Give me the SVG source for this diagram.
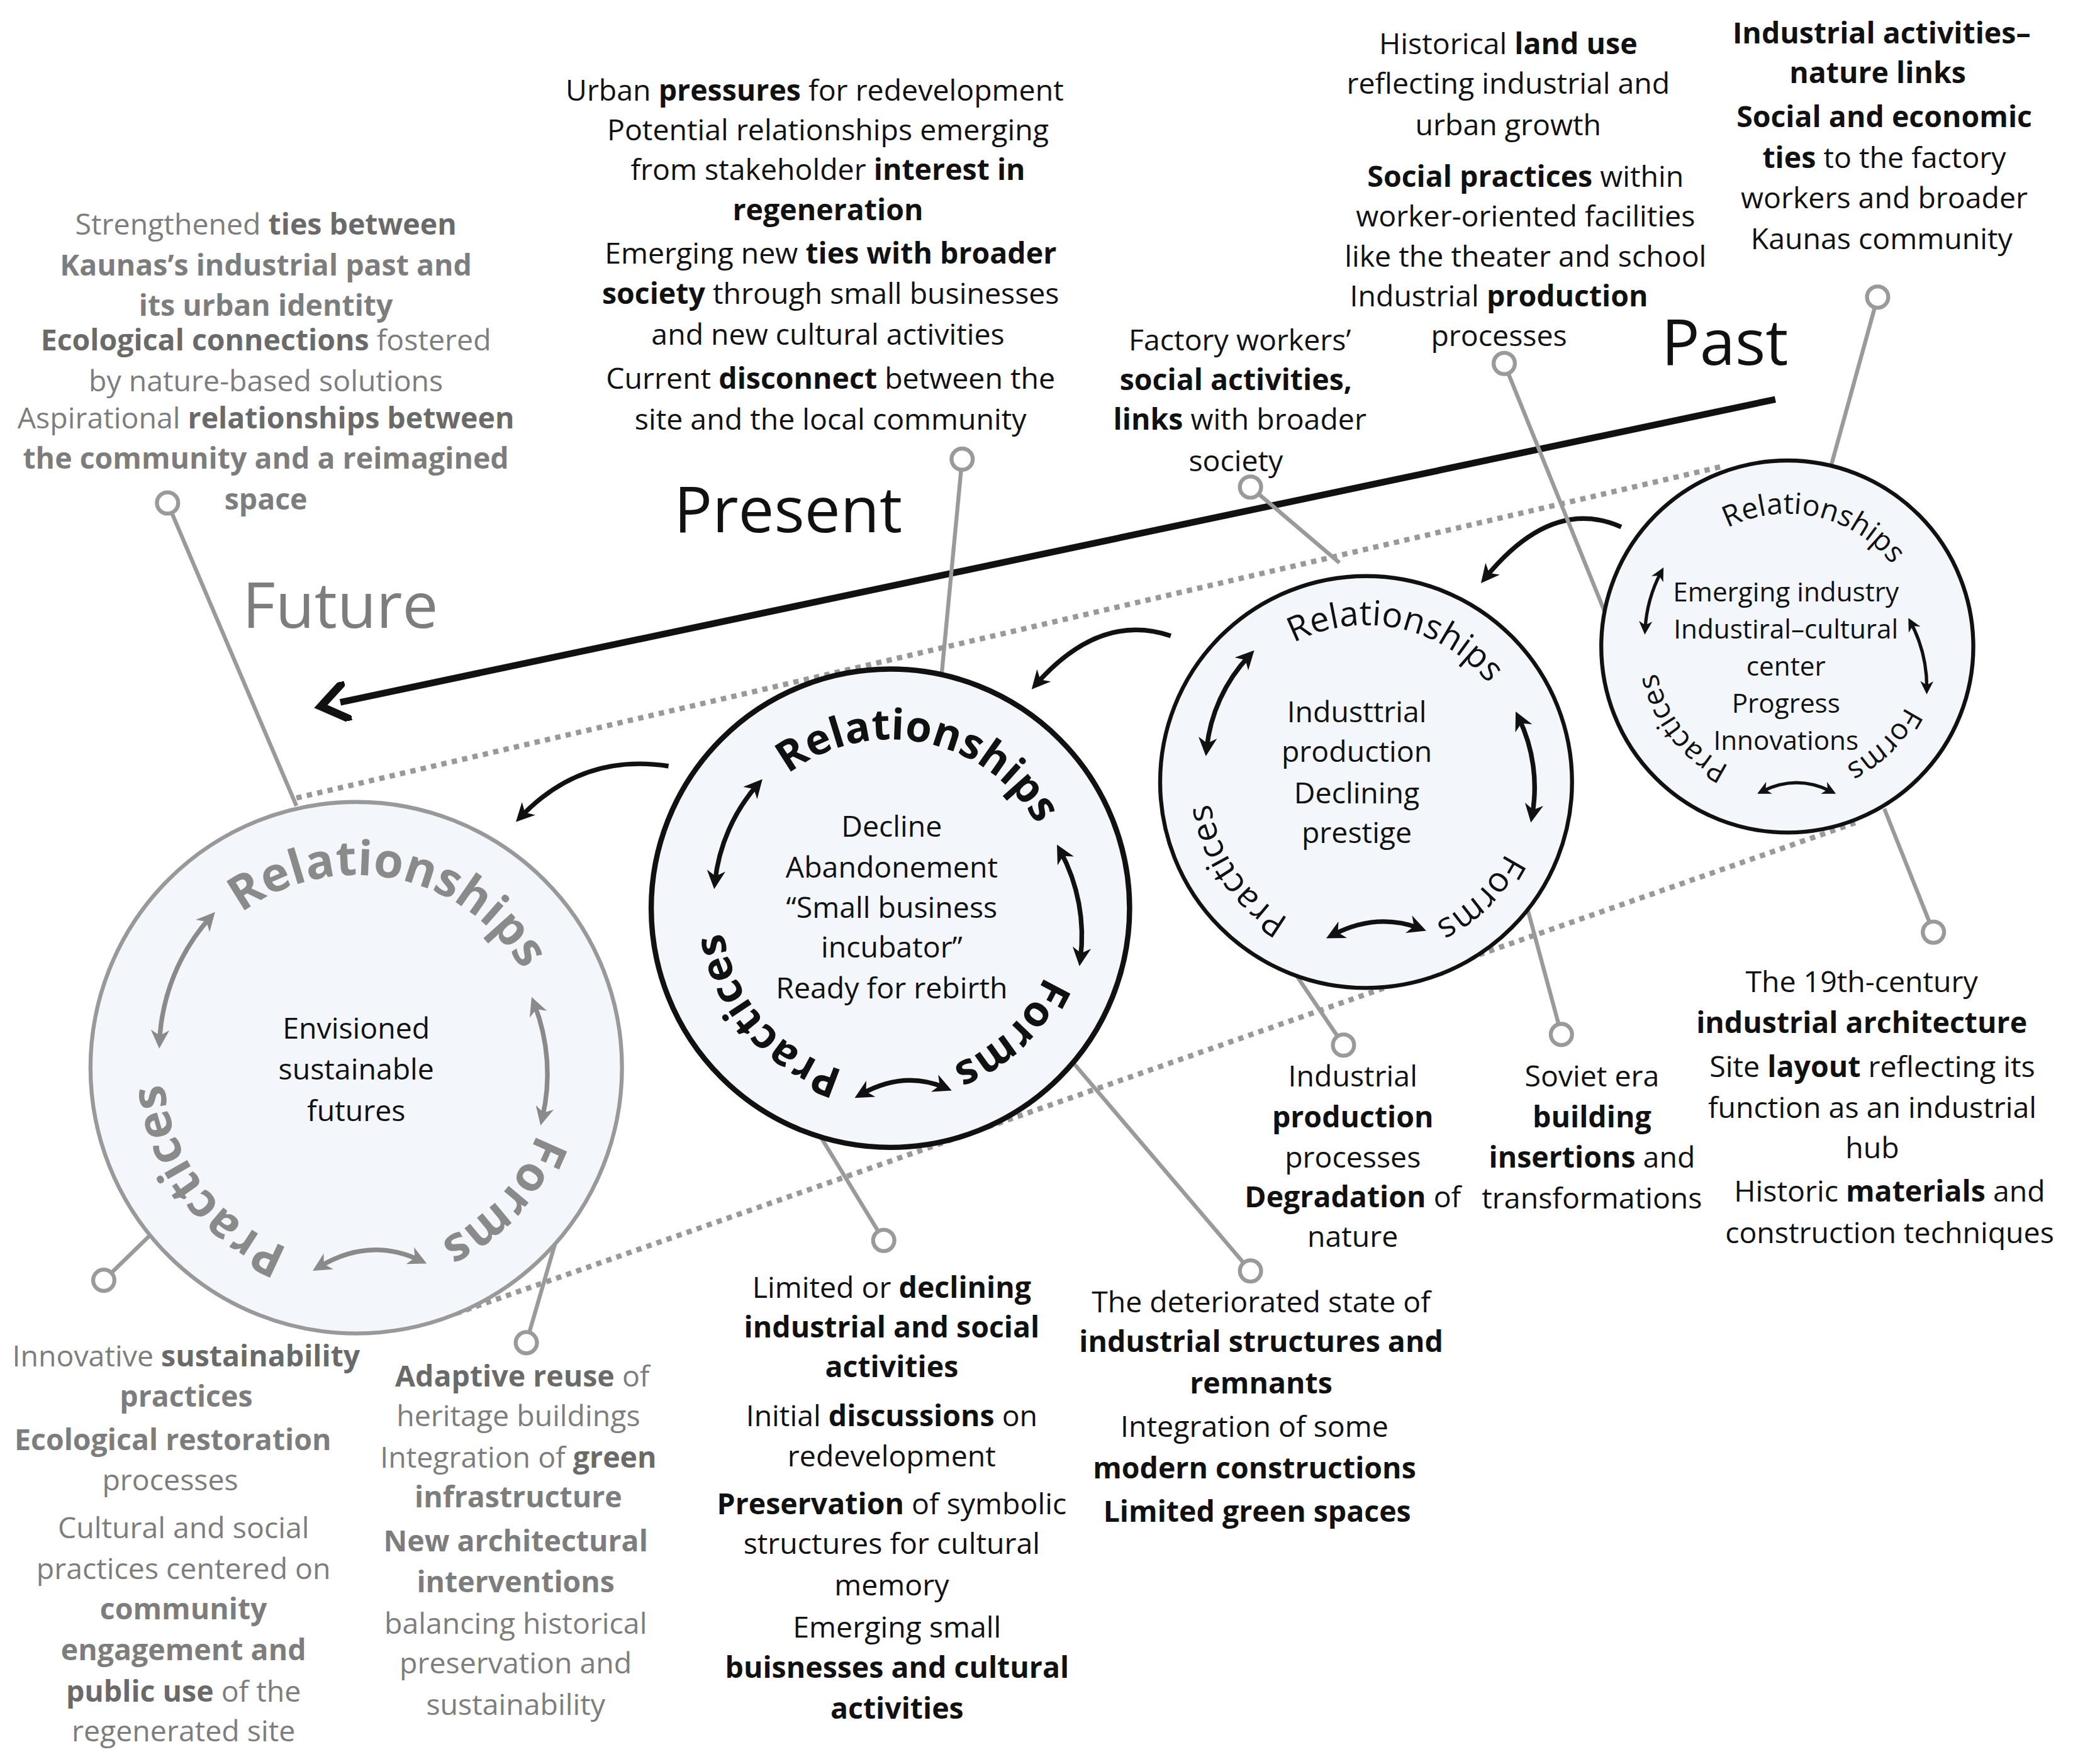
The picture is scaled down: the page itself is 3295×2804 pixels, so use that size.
<svg xmlns="http://www.w3.org/2000/svg" width="3295" height="2804" viewBox="0 0 3295 2804">
<defs>
<style>
text{font-family:"Open Sans","Noto Sans",sans-serif;font-size:22px;fill:#111;text-anchor:middle}
.b{font-weight:bold}
.g{fill:#7d7d7d}
.g .b{fill:#6a6a6a}
.lead{stroke:#9a9a9a;stroke-width:3;fill:none}
.dot{fill:#fff;stroke:#9a9a9a;stroke-width:3}
.fw{font-weight:bold;font-size:36px;fill:#8a8a8a}
.pw{font-weight:bold;font-size:32px}
.mw{font-size:26px}
.aw{font-size:22px}
.big{font-size:48px}
.sm{font-size:20px}
</style>
<marker id="ah" viewBox="0 0 10 10" refX="6" refY="5" markerWidth="4" markerHeight="4" orient="auto-start-reverse"><path d="M0,0 L10,5 L0,10 L3,5 Z" fill="#111"/></marker>
<marker id="ahg" viewBox="0 0 10 10" refX="6" refY="5" markerWidth="4" markerHeight="4" orient="auto-start-reverse"><path d="M0,0 L10,5 L0,10 L3,5 Z" fill="#8a8a8a"/></marker>
<marker id="tl" viewBox="0 0 10 10" refX="2" refY="5" markerWidth="6" markerHeight="6" orient="auto-start-reverse"><path d="M0,0 L7,5 L0,10" fill="none" stroke="#111" stroke-width="2"/></marker>
<path id="pF" d="M415,805 A145,145 0 1 1 125,805 A145,145 0 1 1 415,805"/>
<path id="pP" d="M799,685 A127,127 0 1 1 545,685 A127,127 0 1 1 799,685"/>
<path id="pM" d="M1148,590 A118,118 0 1 1 912,590 A118,118 0 1 1 1148,590"/>
<path id="pA" d="M1447,488 A100,100 0 1 1 1247,488 A100,100 0 1 1 1447,488"/>
</defs>
<rect width="3295" height="2804" fill="#fff"/>
<g transform="translate(-4,-3) scale(2.112)">
<g id="connectors">
<line x1="225" y1="602" x2="1300" y2="352" stroke="#999" stroke-width="4" stroke-dasharray="4 4"/>
<line x1="345" y1="990" x2="1400" y2="620" stroke="#999" stroke-width="4" stroke-dasharray="4 4"/>
<line x1="1338" y1="302" x2="258" y2="530" stroke="#111" stroke-width="5" marker-end="url(#tl)"/>
<path d="M1222,398 Q1170,375 1120,436" fill="none" stroke="#111" stroke-width="3.5" marker-end="url(#ah)"/>
<path d="M883,480 Q830,462 782,516" fill="none" stroke="#111" stroke-width="3.5" marker-end="url(#ah)"/>
<path d="M505,578 Q440,568 394,616" fill="none" stroke="#111" stroke-width="3.5" marker-end="url(#ah)"/>
<line class="lead" x1="225" y1="608" x2="128" y2="380"/><circle class="dot" cx="128" cy="380" r="8"/>
<line class="lead" x1="118" y1="928" x2="80" y2="965"/><circle class="dot" cx="80" cy="965" r="8"/>
<line class="lead" x1="432" y1="895" x2="398" y2="1012"/><circle class="dot" cx="398" cy="1012" r="8"/>
<line class="lead" x1="710" y1="515" x2="726" y2="347"/><circle class="dot" cx="726" cy="347" r="8"/>
<line class="lead" x1="600" y1="825" x2="667" y2="935"/><circle class="dot" cx="667" cy="935" r="8"/>
<line class="lead" x1="800" y1="790" x2="943" y2="958"/><circle class="dot" cx="943" cy="958" r="8"/>
<line class="lead" x1="1010" y1="425" x2="943" y2="368"/><circle class="dot" cx="943" cy="368" r="8"/>
<line class="lead" x1="940" y1="680" x2="1013" y2="788"/><circle class="dot" cx="1013" cy="788" r="8"/>
<line class="lead" x1="1150" y1="680" x2="1177" y2="780"/><circle class="dot" cx="1177" cy="780" r="8"/>
<line class="lead" x1="1225" y1="500" x2="1134" y2="275"/><circle class="dot" cx="1134" cy="275" r="8"/>
<line class="lead" x1="1375" y1="370" x2="1415" y2="225"/><circle class="dot" cx="1415" cy="225" r="8"/>
<line class="lead" x1="1420" y1="610" x2="1457" y2="703"/><circle class="dot" cx="1457" cy="703" r="8"/>
</g>
<g id="future">
<circle cx="270" cy="805" r="200" fill="#f3f7fb" stroke="#999" stroke-width="3"/>
<text class="fw"><textPath href="#pF" startOffset="78.2%">Relationships</textPath></text>
<text class="fw"><textPath href="#pF" startOffset="11.7%">Forms</textPath></text>
<text class="fw"><textPath href="#pF" startOffset="39.7%">Practices</textPath></text>
<path d="M122,785 A150,150 0 0 1 160,692" fill="none" stroke="#8a8a8a" stroke-width="3.5" marker-start="url(#ahg)" marker-end="url(#ahg)"/>
<path d="M404,757 A145,145 0 0 1 410,843" fill="none" stroke="#8a8a8a" stroke-width="3.5" marker-start="url(#ahg)" marker-end="url(#ahg)"/>
<path d="M242,955 Q280,932 318,950" fill="none" stroke="#8a8a8a" stroke-width="3.5" marker-start="url(#ahg)" marker-end="url(#ahg)"/>
<text x="270" y="783">Envisioned</text><text x="270" y="814">sustainable</text><text x="270" y="845">futures</text>
</g>
<g id="present">
<circle cx="672" cy="685" r="180" fill="#f3f7fb" stroke="#111" stroke-width="4"/>
<text class="pw"><textPath href="#pP" startOffset="78.2%">Relationships</textPath></text>
<text class="pw"><textPath href="#pP" startOffset="12.8%">Forms</textPath></text>
<text class="pw"><textPath href="#pP" startOffset="38.6%">Practices</textPath></text>
<path d="M540,665 A132,132 0 0 1 572,592" fill="none" stroke="#111" stroke-width="3.5" marker-start="url(#ah)" marker-end="url(#ah)"/>
<path d="M800,642 A135,135 0 0 1 815,723" fill="none" stroke="#111" stroke-width="3.5" marker-start="url(#ah)" marker-end="url(#ah)"/>
<path d="M650,825 Q682,807 713,820" fill="none" stroke="#111" stroke-width="3.5" marker-start="url(#ah)" marker-end="url(#ah)"/>
<text x="673" y="631">Decline</text><text x="673" y="662">Abandonement</text><text x="673" y="692">“Small business</text><text x="673" y="722">incubator”</text><text x="673" y="753">Ready for rebirth</text>
</g>
<g id="past-mid">
<circle cx="1030" cy="590" r="155" fill="#f3f7fb" stroke="#111" stroke-width="3"/>
<text class="mw"><textPath href="#pM" startOffset="78.3%">Relationships</textPath></text>
<text class="mw"><textPath href="#pM" startOffset="12.6%">Forms</textPath></text>
<text class="mw"><textPath href="#pM" startOffset="40.5%">Practices</textPath></text>
<path d="M910,565 A120,120 0 0 1 942,495" fill="none" stroke="#111" stroke-width="3.5" marker-start="url(#ah)" marker-end="url(#ah)"/>
<path d="M1145,542 A120,120 0 0 1 1155,615" fill="none" stroke="#111" stroke-width="3.5" marker-start="url(#ah)" marker-end="url(#ah)"/>
<path d="M1005,705 Q1038,688 1070,700" fill="none" stroke="#111" stroke-width="3.5" marker-start="url(#ah)" marker-end="url(#ah)"/>
<text x="1023" y="545">Industtrial</text><text x="1023" y="575">production</text><text x="1023" y="606">Declining</text><text x="1023" y="636">prestige</text>
</g>
<g id="past">
<circle cx="1347" cy="488" r="140" fill="#f3f7fb" stroke="#111" stroke-width="3"/>
<text class="aw"><textPath href="#pA" startOffset="78.5%">Relationships</textPath></text>
<text class="aw"><textPath href="#pA" startOffset="12.6%">Forms</textPath></text>
<text class="aw"><textPath href="#pA" startOffset="39.5%">Practices</textPath></text>
<path d="M1240,475 A105,105 0 0 1 1252,432" fill="none" stroke="#111" stroke-width="2.5" marker-start="url(#ah)" marker-end="url(#ah)"/>
<path d="M1440,470 A105,105 0 0 1 1452,520" fill="none" stroke="#111" stroke-width="2.5" marker-start="url(#ah)" marker-end="url(#ah)"/>
<path d="M1328,597 Q1354,584 1380,597" fill="none" stroke="#111" stroke-width="2.5" marker-start="url(#ah)" marker-end="url(#ah)"/>
<text x="1346" y="454" class="sm">Emerging industry</text><text x="1346" y="482" class="sm">Industiral–cultural</text><text x="1346" y="510" class="sm">center</text><text x="1346" y="538" class="sm">Progress</text><text x="1346" y="566" class="sm">Innovations</text>
</g>
<g id="era-labels">
<text x="1300" y="276" class="big">Past</text>
<text x="595" y="402" class="big">Present</text>
<text x="258" y="474" class="big g">Future</text>
</g>
<g id="note-future-rel">
<text x="202" y="178" class="g">Strengthened <tspan class="b">ties between</tspan></text>
<text x="202" y="209" class="g b">Kaunas’s industrial past and</text>
<text x="202" y="239" class="g b">its urban identity</text>
<text x="202" y="265" class="g"><tspan class="b">Ecological connections</tspan> fostered</text>
<text x="202" y="296" class="g">by nature-based solutions</text>
<text x="202" y="324" class="g">Aspirational <tspan class="b">relationships between</tspan></text>
<text x="202" y="354" class="g b">the community and a reimagined</text>
<text x="202" y="385" class="g b">space</text>
</g>
<g id="note-present-rel">
<text x="615" y="77">Urban <tspan class="b">pressures</tspan> for redevelopment</text>
<text x="625" y="107">Potential relationships emerging</text>
<text x="625" y="137">from stakeholder <tspan class="b">interest in</tspan></text>
<text x="625" y="167" class="b">regeneration</text>
<text x="627" y="200">Emerging new <tspan class="b">ties with broader</tspan></text>
<text x="627" y="230"><tspan class="b">society</tspan> through small businesses</text>
<text x="625" y="261">and new cultural activities</text>
<text x="627" y="294">Current <tspan class="b">disconnect</tspan> between the</text>
<text x="627" y="325">site and the local community</text>
</g>
<g id="note-mid-rel">
<text x="935" y="265">Factory workers’</text>
<text x="932" y="295" class="b">social activities,</text>
<text x="935" y="325"><tspan class="b">links</tspan> with broader</text>
<text x="932" y="356">society</text>
</g>
<g id="note-past-prac">
<text x="1137" y="42">Historical <tspan class="b">land use</tspan></text>
<text x="1137" y="72">reflecting industrial and</text>
<text x="1137" y="103">urban growth</text>
<text x="1150" y="142"><tspan class="b">Social practices</tspan> within</text>
<text x="1150" y="172">worker-oriented facilities</text>
<text x="1150" y="202">like the theater and school</text>
<text x="1130" y="232">Industrial <tspan class="b">production</tspan></text>
<text x="1130" y="262">processes</text>
</g>
<g id="note-past-rel">
<text x="1418" y="34" class="b">Industrial activities–</text>
<text x="1415" y="64" class="b">nature links</text>
<text x="1420" y="97" class="b">Social and economic</text>
<text x="1420" y="128"><tspan class="b">ties</tspan> to the factory</text>
<text x="1420" y="158">workers and broader</text>
<text x="1418" y="189">Kaunas community</text>
</g>
<g id="note-past-forms">
<text x="1403" y="748">The 19th-century</text>
<text x="1403" y="779" class="b">industrial architecture</text>
<text x="1411" y="812">Site <tspan class="b">layout</tspan> reflecting its</text>
<text x="1411" y="843">function as an industrial</text>
<text x="1411" y="873">hub</text>
<text x="1424" y="906">Historic <tspan class="b">materials</tspan> and</text>
<text x="1424" y="937">construction techniques</text>
</g>
<g id="note-mid-prac">
<text x="1020" y="819">Industrial</text>
<text x="1020" y="850" class="b">production</text>
<text x="1020" y="880">processes</text>
<text x="1020" y="910"><tspan class="b">Degradation</tspan> of</text>
<text x="1020" y="940">nature</text>
</g>
<g id="note-mid-forms">
<text x="1200" y="819">Soviet era</text>
<text x="1200" y="850" class="b">building</text>
<text x="1200" y="880"><tspan class="b">insertions</tspan> and</text>
<text x="1200" y="911">transformations</text>
</g>
<g id="note-present-forms">
<text x="951" y="989">The deteriorated state of</text>
<text x="951" y="1019" class="b">industrial structures and</text>
<text x="951" y="1050" class="b">remnants</text>
<text x="946" y="1083">Integration of some</text>
<text x="946" y="1114" class="b">modern constructions</text>
<text x="948" y="1147" class="b">Limited green spaces</text>
</g>
<g id="note-present-prac">
<text x="673" y="978">Limited or <tspan class="b">declining</tspan></text>
<text x="673" y="1008" class="b">industrial and social</text>
<text x="673" y="1038" class="b">activities</text>
<text x="673" y="1075">Initial <tspan class="b">discussions</tspan> on</text>
<text x="673" y="1105">redevelopment</text>
<text x="673" y="1141"><tspan class="b">Preservation</tspan> of symbolic</text>
<text x="673" y="1171">structures for cultural</text>
<text x="673" y="1202">memory</text>
<text x="677" y="1234">Emerging small</text>
<text x="677" y="1264" class="b">buisnesses and cultural</text>
<text x="677" y="1295" class="b">activities</text>
</g>
<g id="note-future-prac">
<text x="142" y="1030" class="g">Innovative <tspan class="b">sustainability</tspan></text>
<text x="142" y="1060" class="g b">practices</text>
<text x="132" y="1093" class="g b">Ecological restoration</text>
<text x="130" y="1123" class="g">processes</text>
<text x="140" y="1159" class="g">Cultural and social</text>
<text x="140" y="1190" class="g">practices centered on</text>
<text x="140" y="1220" class="g b">community</text>
<text x="140" y="1251" class="g b">engagement and</text>
<text x="140" y="1282" class="g"><tspan class="b">public use</tspan> of the</text>
<text x="140" y="1312" class="g">regenerated site</text>
</g>
<g id="note-future-forms">
<text x="395" y="1045" class="g"><tspan class="b">Adaptive reuse</tspan> of</text>
<text x="392" y="1075" class="g">heritage buildings</text>
<text x="392" y="1106" class="g">Integration of <tspan class="b">green</tspan></text>
<text x="392" y="1136" class="g b">infrastructure</text>
<text x="390" y="1169" class="g b">New architectural</text>
<text x="390" y="1200" class="g b">interventions</text>
<text x="390" y="1231" class="g">balancing historical</text>
<text x="390" y="1261" class="g">preservation and</text>
<text x="390" y="1292" class="g">sustainability</text>
</g>
</g>
</svg>
